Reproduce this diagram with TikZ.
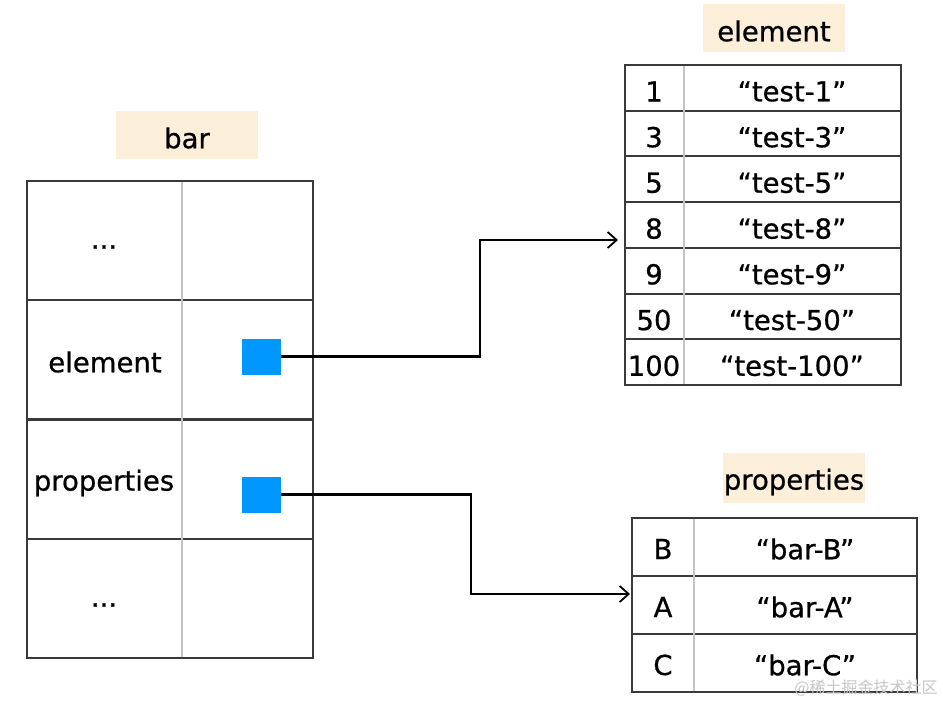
\documentclass[tikz,border=0pt]{standalone}
\usepackage{fontspec}
\setmainfont[FakeBold=0.7]{DejaVu Sans}
\newfontfamily\cjk{Noto Sans CJK SC}
\usetikzlibrary{arrows.meta}
\definecolor{labelbg}{HTML}{FCEFD9}
\definecolor{ptr}{HTML}{0098FF}
\definecolor{gridline}{HTML}{3A3A3A}
\definecolor{divline}{HTML}{C4C4C4}
\begin{document}
\begin{tikzpicture}[x=1pt,y=-1pt,
  every node/.style={font=\fontsize{27.5}{32}\selectfont, inner sep=0pt, text=black},
  titlebox/.style={fill=labelbg, minimum width=142pt, minimum height=48pt},
  rowbox/.style={draw=gridline, line width=2pt},
  lrow/.style={rowbox, minimum width=286pt, minimum height=119.25pt},
  erow/.style={rowbox, minimum width=276pt, minimum height=45.71pt},
  prow/.style={rowbox, minimum width=285pt, minimum height=58pt},
  divider/.style={draw=divline, line width=1.8pt},
  ptrbox/.style={fill=ptr, minimum width=39pt, minimum height=36pt},
  conn/.style={draw=black, line width=2.4pt, -{Straight Barb[length=9pt,width=16pt,line width=1.8pt]}},
  wmark/.style={font=\cjk\fontsize{16}{18}\selectfont, text=black!22}]
\useasboundingbox (0,0) rectangle (943,706);
\fill[white] (0,0) rectangle (943,706);

% ---------- bar ----------
\node[titlebox] (tbar) at (187,135) {};
\node (tbartext) at (187,138) {bar};
\node[lrow] (l1) at (170,240.6) {};
\node[lrow] (l2) at (170,359.9) {};
\node[lrow] (l3) at (170,479.1) {};
\node[lrow] (l4) at (170,598.4) {};
\draw[divider] (182,182) coordinate (ld1) -- (182,657) coordinate (ld2);
\node (k1) at (104,247) {...};
\node (k2) at (105,362) {element};
\node (k3) at (104,483) {properties};
\node (k4) at (104,605) {...};
\node[ptrbox] (p1) at (261.5,356.5) {};
\node[ptrbox] (p2) at (261.5,494.5) {};

% ---------- element ----------
\node[titlebox] (telem) at (774,28) {};
\node (telemtext) at (774,31) {element};
\foreach \i/\k/\v in {0/1/test-1,1/3/test-3,2/5/test-5,3/8/test-8,4/9/test-9,5/50/test-50,6/100/test-100}{
  \node[erow] (e\i) at (763,{87.86+45.71*\i}) {};
  \node (ek\i) at (654,{91.5+45.71*\i}) {\k};
  \node (ev\i) at (792,{91.5+45.71*\i}) {“\v”};
}
\draw[divider] (684,66) -- (684,384);

% ---------- properties ----------
\node[titlebox, minimum height=50pt] (tprop) at (794,478) {};
\node (tproptext) at (794,482) {properties};
\foreach \i/\k/\v in {0/B/bar-B,1/A/bar-A,2/C/bar-C}{
  \node[prow] (r\i) at (774.5,{547+58*\i}) {};
  \node (rk\i) at (663,{549+58*\i}) {\k};
  \node (rv\i) at (805,{549+58*\i}) {“\v”};
}
\draw[divider] (694,519) -- (694,691);

% ---------- connectors ----------
\coordinate (t1) at (618,240);
\coordinate (t2) at (630,594);
\draw[conn] (p1.east) -- ++(198.5,0) |- (t1);
\draw[conn] (p2.east) -- ++(189.5,0) |- (t2);

% ---------- watermark ----------
\node[wmark] (wm) at (866,688) {@稀土掘金技术社区};
\end{tikzpicture}
\end{document}
